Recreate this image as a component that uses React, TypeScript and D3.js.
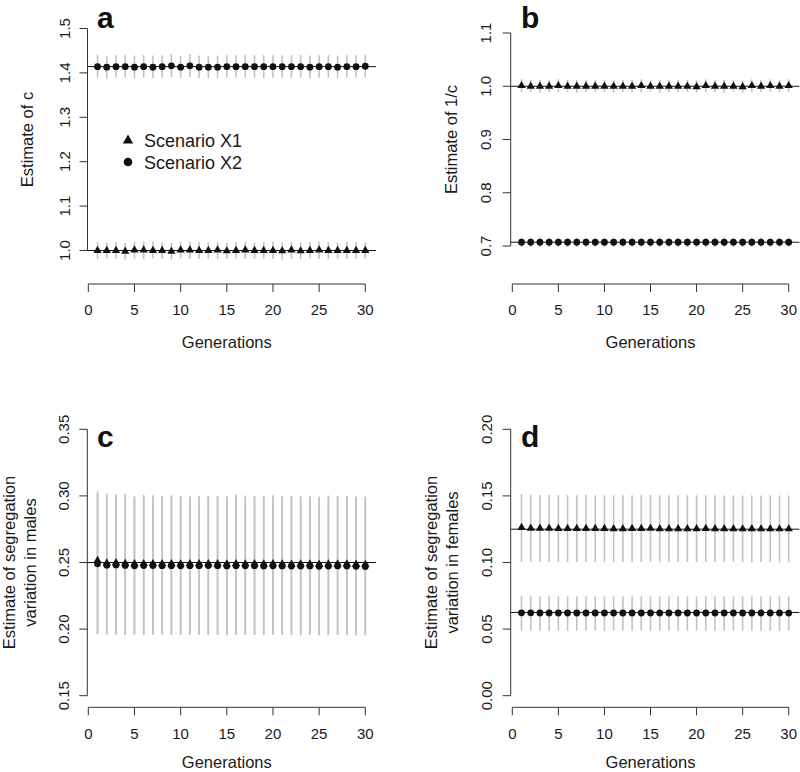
import React, { useEffect, useRef } from 'react';
import * as d3 from 'd3';

const generations = [1, 2, 3, 4, 5, 6, 7, 8, 9, 10, 11, 12, 13, 14, 15, 16, 17, 18, 19, 20, 21, 22, 23, 24, 25, 26, 27, 28, 29, 30];
const xTicks = [0, 5, 10, 15, 20, 25, 30];

// panel a: estimate of c
const aTicks = [1.0, 1.1, 1.2, 1.3, 1.4, 1.5];
const aRef = [1.0, 1.4142];
const aX1Est = [1.000, 1.000, 1.000, 0.998, 1.001, 1.001, 1.000, 1.000, 0.998, 1.001, 1.001, 1.000, 1.000, 1.001, 0.999, 1.000, 1.001, 1.000, 1.000, 1.000, 0.999, 1.001, 0.999, 1.000, 1.001, 1.000, 1.000, 1.000, 1.000, 1.000];
const aX1Lo = [0.981, 0.982, 0.981, 0.980, 0.982, 0.981, 0.982, 0.981, 0.980, 0.982, 0.981, 0.981, 0.982, 0.981, 0.981, 0.982, 0.981, 0.981, 0.982, 0.981, 0.980, 0.981, 0.981, 0.982, 0.981, 0.981, 0.982, 0.981, 0.981, 0.982];
const aX1Hi = [1.019, 1.018, 1.019, 1.017, 1.019, 1.020, 1.019, 1.018, 1.017, 1.019, 1.020, 1.019, 1.018, 1.019, 1.018, 1.019, 1.019, 1.018, 1.019, 1.019, 1.018, 1.019, 1.018, 1.019, 1.020, 1.019, 1.018, 1.019, 1.019, 1.018];
const aX2Est = [1.414, 1.413, 1.414, 1.414, 1.413, 1.414, 1.413, 1.414, 1.416, 1.413, 1.416, 1.413, 1.413, 1.413, 1.414, 1.414, 1.414, 1.414, 1.414, 1.414, 1.414, 1.414, 1.414, 1.413, 1.414, 1.414, 1.413, 1.414, 1.414, 1.415];
const aX2Lo = [1.389, 1.388, 1.389, 1.389, 1.388, 1.389, 1.388, 1.389, 1.391, 1.388, 1.391, 1.388, 1.388, 1.388, 1.389, 1.389, 1.389, 1.389, 1.388, 1.389, 1.389, 1.389, 1.389, 1.388, 1.389, 1.389, 1.388, 1.389, 1.389, 1.390];
const aX2Hi = [1.441, 1.439, 1.440, 1.440, 1.439, 1.440, 1.439, 1.440, 1.442, 1.439, 1.442, 1.439, 1.439, 1.439, 1.440, 1.440, 1.440, 1.440, 1.440, 1.440, 1.440, 1.440, 1.440, 1.439, 1.440, 1.440, 1.439, 1.440, 1.440, 1.441];

// panel b: estimate of 1/c
const bTicks = [0.7, 0.8, 0.9, 1.0, 1.1];
const bRef = [1.0, 0.7071];
const bX1Est = [1.001, 1.000, 1.000, 1.000, 1.001, 1.000, 1.000, 1.000, 1.000, 1.000, 1.000, 1.000, 1.000, 1.001, 1.000, 1.000, 1.000, 1.000, 1.000, 0.999, 1.001, 1.000, 1.000, 1.000, 0.999, 1.001, 1.000, 1.001, 1.000, 1.001];
const bX1Lo = [0.989, 0.989, 0.988, 0.989, 0.989, 0.989, 0.988, 0.989, 0.989, 0.989, 0.988, 0.989, 0.989, 0.989, 0.989, 0.988, 0.989, 0.989, 0.989, 0.988, 0.989, 0.989, 0.988, 0.989, 0.988, 0.989, 0.989, 0.989, 0.989, 0.989];
const bX1Hi = [1.013, 1.012, 1.012, 1.012, 1.013, 1.012, 1.012, 1.012, 1.012, 1.012, 1.012, 1.012, 1.012, 1.013, 1.012, 1.012, 1.012, 1.012, 1.012, 1.011, 1.013, 1.012, 1.012, 1.012, 1.011, 1.013, 1.012, 1.013, 1.012, 1.013];
const bX2Est = [0.707, 0.707, 0.707, 0.707, 0.707, 0.707, 0.707, 0.707, 0.707, 0.707, 0.707, 0.707, 0.707, 0.707, 0.707, 0.707, 0.707, 0.707, 0.707, 0.707, 0.707, 0.707, 0.707, 0.707, 0.707, 0.707, 0.707, 0.707, 0.707, 0.707];
const bX2Lo = [0.698, 0.698, 0.698, 0.698, 0.698, 0.698, 0.698, 0.698, 0.698, 0.698, 0.698, 0.698, 0.698, 0.698, 0.698, 0.698, 0.698, 0.698, 0.698, 0.698, 0.698, 0.698, 0.698, 0.698, 0.698, 0.698, 0.698, 0.698, 0.698, 0.698];
const bX2Hi = [0.716, 0.716, 0.716, 0.716, 0.716, 0.716, 0.716, 0.716, 0.716, 0.716, 0.716, 0.716, 0.716, 0.716, 0.716, 0.716, 0.716, 0.716, 0.716, 0.716, 0.716, 0.716, 0.716, 0.716, 0.716, 0.716, 0.716, 0.716, 0.716, 0.716];

// panel c: segregation variation in males
const cTicks = [0.15, 0.2, 0.25, 0.3, 0.35];
const cRef = [0.25];
const cX1Est = [0.2515, 0.2495, 0.2497, 0.2493, 0.2490, 0.2491, 0.2491, 0.2490, 0.2490, 0.2489, 0.2490, 0.2490, 0.2491, 0.2490, 0.2488, 0.2490, 0.2489, 0.2490, 0.2488, 0.2490, 0.2488, 0.2487, 0.2488, 0.2489, 0.2486, 0.2488, 0.2488, 0.2488, 0.2486, 0.2485];
const cX1Lo = [0.1968, 0.1962, 0.1961, 0.1958, 0.1962, 0.1961, 0.1960, 0.1961, 0.1960, 0.1961, 0.1960, 0.1961, 0.1960, 0.1961, 0.1958, 0.1960, 0.1961, 0.1960, 0.1959, 0.1960, 0.1959, 0.1958, 0.1957, 0.1959, 0.1957, 0.1958, 0.1959, 0.1958, 0.1956, 0.1957];
const cX1Hi = [0.3035, 0.3018, 0.3012, 0.3015, 0.2998, 0.3008, 0.3005, 0.3002, 0.3004, 0.3000, 0.2997, 0.3001, 0.3002, 0.2999, 0.2998, 0.3010, 0.3003, 0.3001, 0.3002, 0.3004, 0.2999, 0.2999, 0.2998, 0.2997, 0.2995, 0.3003, 0.3001, 0.2999, 0.2995, 0.2996];
const cX2Est = [0.2490, 0.2480, 0.2482, 0.2478, 0.2475, 0.2477, 0.2477, 0.2476, 0.2476, 0.2475, 0.2476, 0.2476, 0.2477, 0.2476, 0.2474, 0.2476, 0.2475, 0.2476, 0.2474, 0.2475, 0.2474, 0.2473, 0.2473, 0.2474, 0.2472, 0.2473, 0.2474, 0.2473, 0.2471, 0.2470];
const cX2Lo = [0.1962, 0.1958, 0.1957, 0.1955, 0.1957, 0.1956, 0.1956, 0.1957, 0.1956, 0.1956, 0.1955, 0.1956, 0.1956, 0.1956, 0.1954, 0.1956, 0.1956, 0.1955, 0.1955, 0.1956, 0.1955, 0.1954, 0.1953, 0.1955, 0.1953, 0.1954, 0.1955, 0.1954, 0.1952, 0.1953];
const cX2Hi = [0.3015, 0.3002, 0.2998, 0.3000, 0.2990, 0.2995, 0.2992, 0.2990, 0.2992, 0.2990, 0.2987, 0.2990, 0.2991, 0.2989, 0.2988, 0.2996, 0.2992, 0.2990, 0.2991, 0.2992, 0.2989, 0.2988, 0.2988, 0.2987, 0.2985, 0.2992, 0.2990, 0.2989, 0.2985, 0.2986];

// panel d: segregation variation in females
const dTicks = [0.0, 0.05, 0.1, 0.15, 0.2];
const dRef = [0.125, 0.0625];
const dX1Est = [0.1262, 0.1257, 0.1256, 0.1256, 0.1255, 0.1255, 0.1255, 0.1255, 0.1254, 0.1254, 0.1253, 0.1253, 0.1254, 0.1254, 0.1256, 0.1253, 0.1253, 0.1253, 0.1253, 0.1253, 0.1255, 0.1253, 0.1253, 0.1253, 0.1252, 0.1253, 0.1252, 0.1253, 0.1252, 0.1252];
const dX1Lo = [0.1006, 0.1005, 0.1004, 0.1004, 0.1005, 0.1004, 0.1004, 0.1005, 0.1004, 0.1004, 0.1003, 0.1004, 0.1004, 0.1004, 0.1005, 0.1003, 0.1004, 0.1003, 0.1004, 0.1003, 0.1004, 0.1003, 0.1003, 0.1004, 0.1002, 0.1003, 0.1003, 0.1003, 0.1002, 0.1002];
const dX1Hi = [0.1515, 0.1508, 0.1507, 0.1507, 0.1506, 0.1506, 0.1505, 0.1506, 0.1505, 0.1505, 0.1504, 0.1504, 0.1505, 0.1505, 0.1507, 0.1504, 0.1504, 0.1504, 0.1504, 0.1504, 0.1506, 0.1504, 0.1503, 0.1504, 0.1503, 0.1504, 0.1503, 0.1504, 0.1503, 0.1503];
const dX2Est = [0.0622, 0.0622, 0.0621, 0.0621, 0.0621, 0.0621, 0.0621, 0.0621, 0.0621, 0.0621, 0.0621, 0.0621, 0.0621, 0.0621, 0.0621, 0.0621, 0.0621, 0.0621, 0.0621, 0.0621, 0.0621, 0.0621, 0.0621, 0.0621, 0.0621, 0.0621, 0.0621, 0.0621, 0.0621, 0.0620];
const dX2Lo = [0.0489, 0.0489, 0.0488, 0.0488, 0.0488, 0.0488, 0.0488, 0.0488, 0.0488, 0.0488, 0.0488, 0.0488, 0.0488, 0.0488, 0.0488, 0.0488, 0.0488, 0.0488, 0.0488, 0.0488, 0.0488, 0.0488, 0.0488, 0.0488, 0.0488, 0.0488, 0.0488, 0.0488, 0.0488, 0.0487];
const dX2Hi = [0.0746, 0.0745, 0.0745, 0.0745, 0.0745, 0.0745, 0.0745, 0.0745, 0.0745, 0.0745, 0.0745, 0.0745, 0.0745, 0.0745, 0.0745, 0.0745, 0.0745, 0.0745, 0.0745, 0.0745, 0.0745, 0.0745, 0.0745, 0.0745, 0.0745, 0.0745, 0.0745, 0.0745, 0.0745, 0.0744];

const legendLabels = ['Scenario X1', 'Scenario X2'];

interface Series {
  est: number[];
  lo: number[];
  hi: number[];
  shape: 'tri' | 'circle';
}

interface PanelSpec {
  letter: string;
  ylab: string[];
  xRange: [number, number];
  yDomain: [number, number];
  yRange: [number, number];
  yTicks: number[];
  fmt: string;
  axisX: number;
  axisY: number;
  refs: number[];
  series: Series[];
  tickBase: number;
  labBase: number;
  letterPos: [number, number];
}

const FONT = '"Liberation Sans", Arial, Helvetica, sans-serif';
const INK = '#1a1a1a';

const panels: PanelSpec[] = [
  {
    letter: 'a', ylab: ['Estimate of c'], xRange: [88.3, 365.3], yDomain: [1.0, 1.5], yRange: [250.5, 28.5],
    yTicks: aTicks, fmt: '.1f', axisX: 87.5, axisY: 284, refs: aRef, tickBase: 70, labBase: 33, letterPos: [97, 28],
    series: [
      { est: aX1Est, lo: aX1Lo, hi: aX1Hi, shape: 'tri' },
      { est: aX2Est, lo: aX2Lo, hi: aX2Hi, shape: 'circle' },
    ],
  },
  {
    letter: 'b', ylab: ['Estimate of 1/c'], xRange: [512.3, 788.7], yDomain: [0.7, 1.1], yRange: [246, 33],
    yTicks: bTicks, fmt: '.1f', axisX: 510.7, axisY: 284, refs: bRef, tickBase: 490.5, labBase: 457, letterPos: [521, 28],
    series: [
      { est: bX1Est, lo: bX1Lo, hi: bX1Hi, shape: 'tri' },
      { est: bX2Est, lo: bX2Lo, hi: bX2Hi, shape: 'circle' },
    ],
  },
  {
    letter: 'c', ylab: ['Estimate of segregation', 'variation in males'], xRange: [88.3, 365.3], yDomain: [0.15, 0.35], yRange: [695.7, 429.3],
    yTicks: cTicks, fmt: '.2f', axisX: 87.3, axisY: 707.3, refs: cRef, tickBase: 68.5, labBase: 15, letterPos: [97, 447],
    series: [
      { est: cX1Est, lo: cX1Lo, hi: cX1Hi, shape: 'tri' },
      { est: cX2Est, lo: cX2Lo, hi: cX2Hi, shape: 'circle' },
    ],
  },
  {
    letter: 'd', ylab: ['Estimate of segregation', 'variation in females'], xRange: [512.3, 788.7], yDomain: [0.0, 0.2], yRange: [695.7, 429.3],
    yTicks: dTicks, fmt: '.2f', axisX: 510.7, axisY: 707.3, refs: dRef, tickBase: 491.5, labBase: 437, letterPos: [521, 447],
    series: [
      { est: dX1Est, lo: dX1Lo, hi: dX1Hi, shape: 'tri' },
      { est: dX2Est, lo: dX2Lo, hi: dX2Hi, shape: 'circle' },
    ],
  },
];

const triPath = d3.symbol(d3.symbolTriangle, 30)();
const triLegend = d3.symbol(d3.symbolTriangle, 46)();

export default function App() {
  const svgRef = useRef<SVGSVGElement>(null);

  useEffect(() => {
    if (!svgRef.current) return;
    const svg = d3.select(svgRef.current);
    svg.selectAll('*').remove();

    panels.forEach(p => {
      const x = d3.scaleLinear().domain([0, 30]).range(p.xRange);
      const y = d3.scaleLinear().domain(p.yDomain).range(p.yRange);
      const g = svg.append('g').style('font-family', FONT);
      const yMid = (p.yRange[0] + p.yRange[1]) / 2;

      // reference lines (abline spans the plot region)
      p.refs.forEach(r => {
        g.append('line')
          .attr('x1', p.axisX).attr('x2', x(31.16))
          .attr('y1', y(r)).attr('y2', y(r))
          .style('stroke', '#111').style('stroke-width', 1);
      });

      // error bars
      p.series.forEach(s => {
        g.selectAll(null)
          .data(generations)
          .enter()
          .append('line')
          .attr('x1', d => x(d)).attr('x2', d => x(d))
          .attr('y1', (d, i) => y(s.lo[i])).attr('y2', (d, i) => y(s.hi[i]))
          .style('stroke', '#c2c2c2').style('stroke-width', 1.6);
      });

      // points
      p.series.forEach(s => {
        if (s.shape === 'circle') {
          g.selectAll(null)
            .data(generations)
            .enter()
            .append('circle')
            .attr('cx', d => x(d))
            .attr('cy', (d, i) => y(s.est[i]))
            .attr('r', 3.4)
            .style('fill', '#111');
        } else {
          g.selectAll(null)
            .data(generations)
            .enter()
            .append('path')
            .attr('d', triPath)
            .attr('transform', (d, i) => `translate(${x(d)},${y(s.est[i])})`)
            .style('fill', '#111');
        }
      });

      // y axis
      const yt = p.yTicks;
      g.append('line')
        .attr('x1', p.axisX).attr('x2', p.axisX)
        .attr('y1', y(yt[0])).attr('y2', y(yt[yt.length - 1]))
        .style('stroke', '#333').style('stroke-width', 1);
      yt.forEach(t => {
        g.append('line')
          .attr('x1', p.axisX - 8).attr('x2', p.axisX)
          .attr('y1', y(t)).attr('y2', y(t))
          .style('stroke', '#333').style('stroke-width', 1);
        g.append('text')
          .attr('transform', `translate(${p.tickBase},${y(t)}) rotate(-90)`)
          .attr('text-anchor', 'middle')
          .style('font-size', '15px')
          .style('fill', INK)
          .text(d3.format(p.fmt)(t));
      });

      // x axis
      g.append('line')
        .attr('x1', x(0)).attr('x2', x(30))
        .attr('y1', p.axisY).attr('y2', p.axisY)
        .style('stroke', '#333').style('stroke-width', 1);
      xTicks.forEach(t => {
        g.append('line')
          .attr('x1', x(t)).attr('x2', x(t))
          .attr('y1', p.axisY).attr('y2', p.axisY + 8)
          .style('stroke', '#333').style('stroke-width', 1);
        g.append('text')
          .attr('x', x(t)).attr('y', p.axisY + 31.3)
          .attr('text-anchor', 'middle')
          .style('font-size', '15px')
          .style('fill', INK)
          .text(String(t));
      });

      g.append('text')
        .attr('x', (x(0) + x(30)) / 2).attr('y', Math.min(p.axisY + 64, 768))
        .attr('text-anchor', 'middle')
        .style('font-size', '16.5px')
        .style('fill', INK)
        .text('Generations');

      p.ylab.forEach((l, i) => {
        g.append('text')
          .attr('transform', `translate(${p.labBase + i * 21},${yMid}) rotate(-90)`)
          .attr('text-anchor', 'middle')
          .style('font-size', '16.5px')
          .style('fill', INK)
          .text(l);
      });

      g.append('text')
        .attr('x', p.letterPos[0]).attr('y', p.letterPos[1])
        .style('font-size', '30px')
        .style('font-weight', 'bold')
        .style('fill', '#111')
        .text(p.letter);
    });

    // legend in panel a
    const lg = svg.append('g').style('font-family', FONT);
    lg.append('path')
      .attr('d', triLegend)
      .attr('transform', 'translate(128,140.5)')
      .style('fill', '#111');
    lg.append('circle')
      .attr('cx', 128).attr('cy', 162)
      .attr('r', 4.3)
      .style('fill', '#111');
    legendLabels.forEach((l, i) => {
      lg.append('text')
        .attr('x', 144).attr('y', 146.5 + i * 22)
        .style('font-size', '18px')
        .style('fill', INK)
        .text(l);
    });
  }, []);

  return (
    <svg
      ref={svgRef}
      width={800}
      height={772}
      style={{ position: 'absolute', left: 0, top: 0, background: '#fff' }}
    />
  );
}
